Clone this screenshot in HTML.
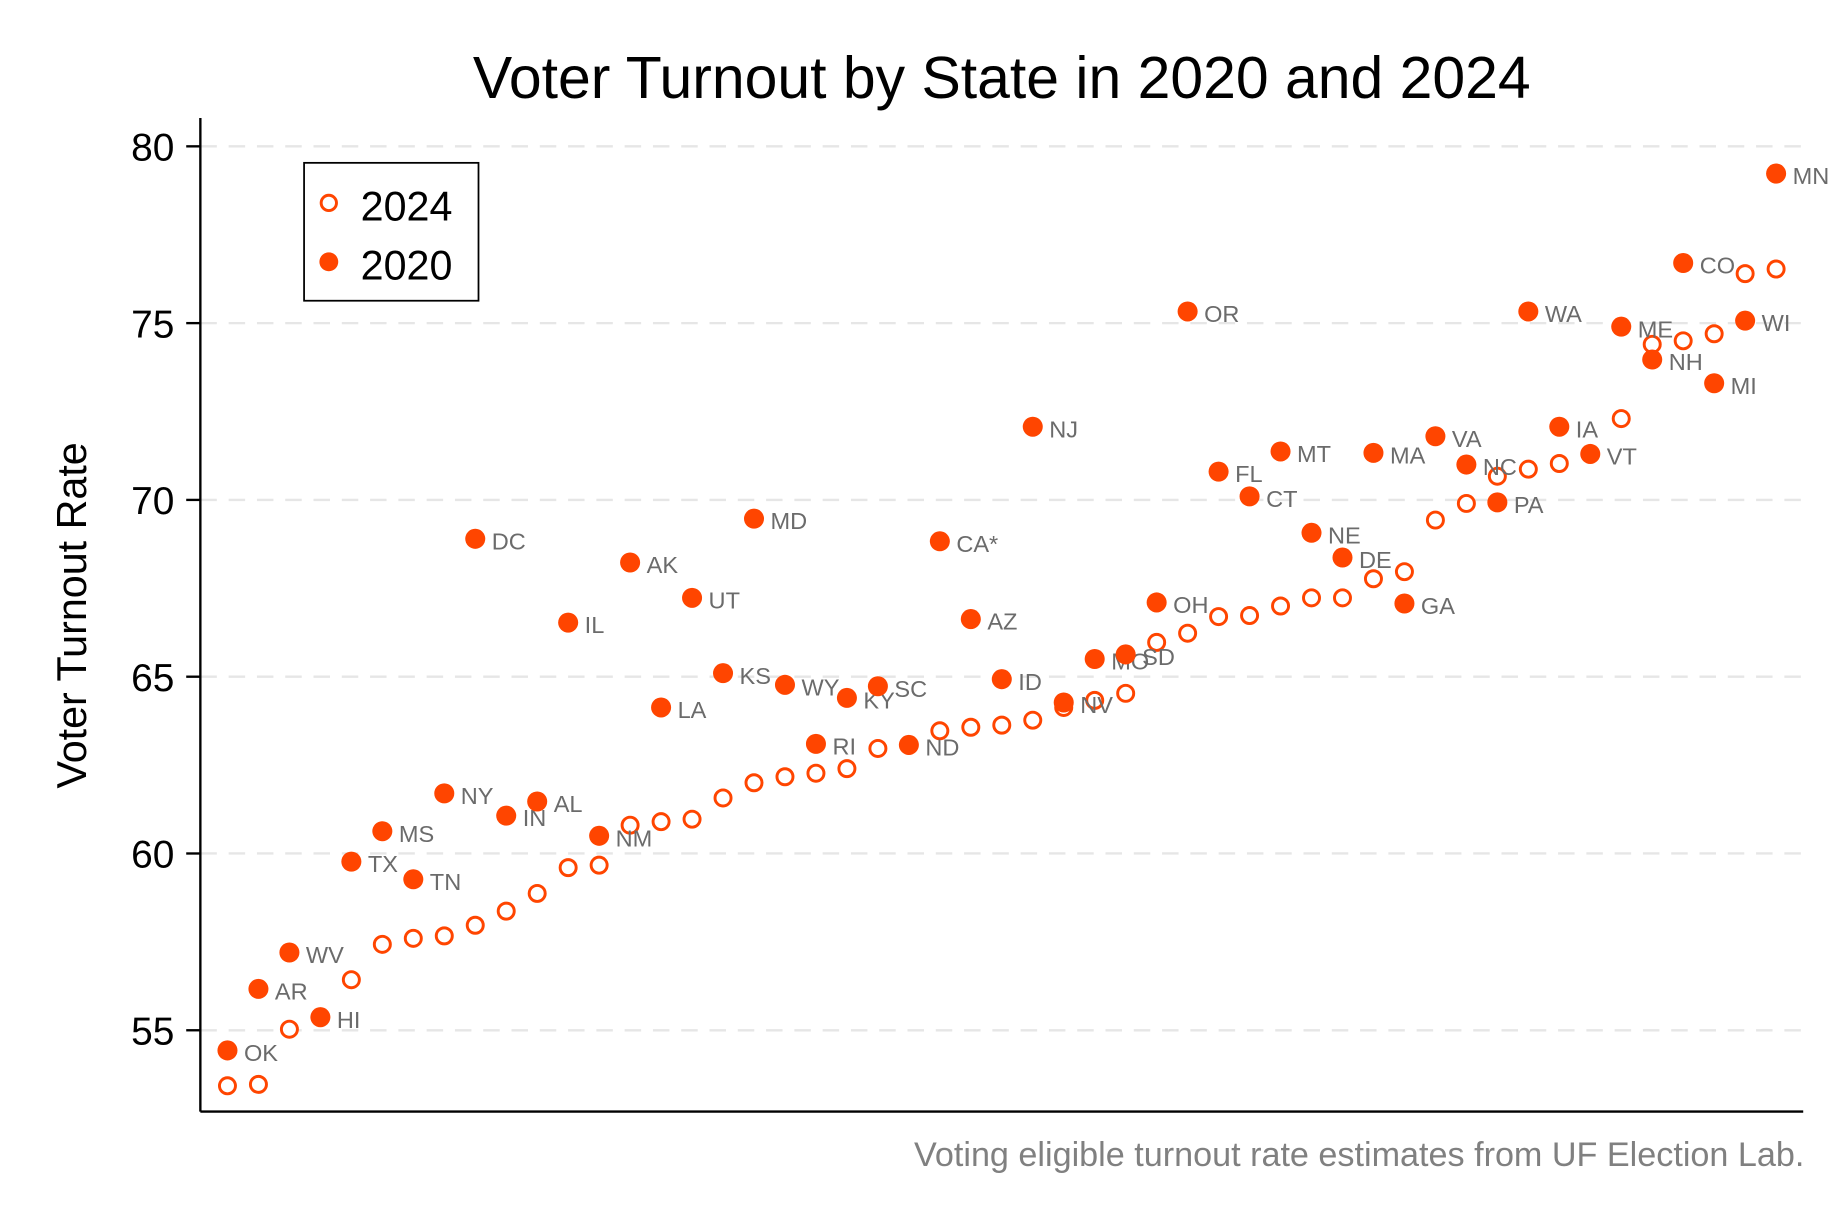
<!DOCTYPE html>
<html><head><meta charset="utf-8"><style>
html,body{margin:0;padding:0;background:#fff}
svg{display:block}
text{font-family:"Liberation Sans",sans-serif}
</style></head><body>
<svg id="chart" width="1848" height="1232" viewBox="0 0 1568 1045" xmlns="http://www.w3.org/2000/svg">
<text x="850" y="83" text-anchor="middle" font-size="50" fill="#000">Voter Turnout by State in 2020 and 2024</text>
<text transform="translate(73,522) rotate(-90)" text-anchor="middle" font-size="35" fill="#000">Voter Turnout Rate</text>
<g id="grid"></g>
<line x1="170" y1="100" x2="170" y2="943" stroke="#000" stroke-width="2"/>
<line x1="170" y1="943" x2="1530" y2="943" stroke="#000" stroke-width="2"/>
<g id="marks"></g>
<g>
<rect x="258" y="138" width="148" height="117" fill="#fff" stroke="#000" stroke-width="1.5"/>
<circle cx="279" cy="172" r="6.5" fill="#fff" stroke="#ff4500" stroke-width="2.5"/>
<text x="306" y="187" font-size="35">2024</text>
<circle cx="279" cy="222" r="8" fill="#ff4500"/>
<text x="306" y="237" font-size="35">2020</text>
</g>
<text x="1531" y="989" text-anchor="end" font-size="29" fill="#808080">Voting eligible turnout rate estimates from UF Election Lab.</text>
</svg>
<script>
const states=["OK","AR","WV","HI","TX","MS","TN","NY","DC","IN","AL","IL","NM","AK","LA","UT","KS","MD","WY","RI","KY","SC","ND","CA*","AZ","ID","NJ","NV","MO","SD","OH","OR","FL","CT","MT","NE","DE","MA","GA","VA","NC","PA","WA","IA","VT","ME","NH","CO","MI","WI","MN"];
const v2024=[53.43,53.47,55.03,55.37,56.43,57.43,57.6,57.67,57.97,58.37,58.87,59.6,59.67,60.8,60.9,60.97,61.57,62.0,62.17,62.27,62.4,62.97,63.07,63.47,63.57,63.63,63.77,64.13,64.33,64.53,65.97,66.23,66.7,66.73,67.0,67.23,67.23,67.77,67.97,69.43,69.9,70.67,70.87,71.03,71.3,72.3,74.4,74.5,74.7,76.4,76.53];
const v2020=[54.43,56.17,57.2,55.37,59.77,60.63,59.27,61.7,68.9,61.07,61.47,66.53,60.5,68.23,64.13,67.23,65.1,69.47,64.77,63.1,64.4,64.73,63.07,68.83,66.63,64.93,72.07,64.27,65.5,65.63,67.1,75.33,70.8,70.1,71.37,69.07,68.37,71.33,67.07,71.8,71.0,69.93,75.33,72.07,71.3,74.9,73.97,76.7,73.3,75.07,79.23];
const yTicks=[55,60,65,70,75,80];
const NS="http://www.w3.org/2000/svg";
const xS=i=>193+i*(1507-193)/(states.length-1);
const yS=v=>124+(80-v)*30;
function mk(tag,attrs,parent){const e=document.createElementNS(NS,tag);for(const k in attrs)e.setAttribute(k,attrs[k]);parent.appendChild(e);return e;}
const grid=document.getElementById('grid'),marks=document.getElementById('marks');
yTicks.forEach(t=>{
  const y=yS(t);
  const g=mk('line',{x1:170,x2:1530,y1:y,y2:y,stroke:'#e6e6e6','stroke-width':2,'stroke-dasharray':'14,10'},grid);
  
  
  const tk=mk('line',{x1:158,x2:170,y1:y,y2:y,stroke:'#000','stroke-width':2},grid);
  
  
  const tl=mk('text',{x:148,y:y+12,'text-anchor':'end','font-size':33,fill:'#000'},grid);
  tl.textContent=t;
  
  
});
states.forEach((s,i)=>{
  const x=xS(i);
  const o=mk('circle',{cx:x,cy:yS(v2024[i]),r:6.8,fill:'#fff',stroke:'#ff4500','stroke-width':2.5},marks);
  
  
});
states.forEach((s,i)=>{
  const x=xS(i),y=yS(v2020[i]);
  const c=mk('circle',{cx:x,cy:y,r:8.5,fill:'#ff4500'},marks);
  
  
  const t=mk('text',{x:x+14,y:y+9,'font-size':20,fill:'#6b6b6b'},marks);
  t.textContent=s;
  
  
});
</script>
</body></html>
